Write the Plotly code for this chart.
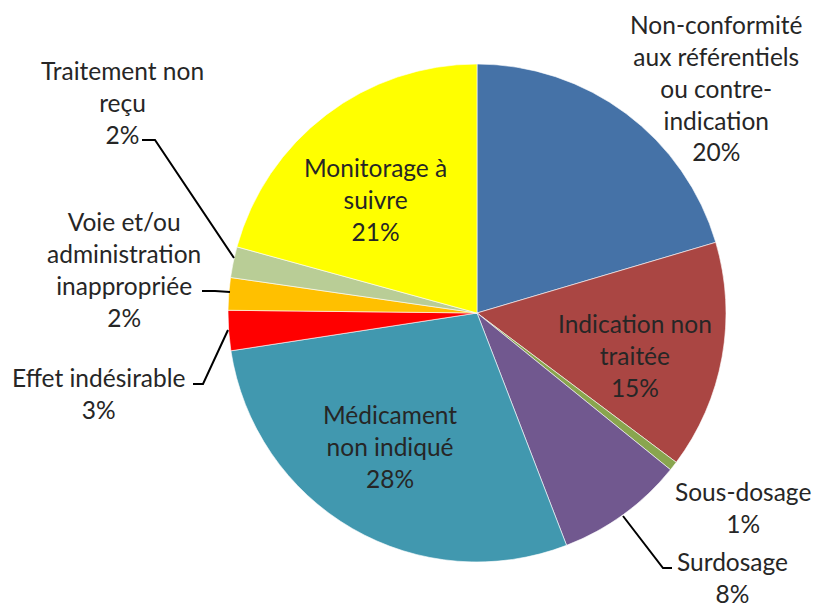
import plotly.graph_objects as go

W, H = 815, 607

categories = [
    "Non-conformité aux référentiels ou contre-indication",
    "Indication non traitée",
    "Sous-dosage",
    "Surdosage",
    "Médicament non indiqué",
    "Effet indésirable",
    "Voie et/ou administration inappropriée",
    "Traitement non reçu",
    "Monitorage à suivre",
]
values = [20.4, 14.8, 0.6, 8.3, 28.4, 2.6, 2.1, 2.0, 20.7]
colors = ["#4572A7", "#AA4643", "#89A54E", "#71588F", "#4198AF",
          "#FF0000", "#FFC000", "#B9CD96", "#FFFF00"]
label_lines = [
    "Non-conformité<br>aux référentiels<br>ou contre-<br>indication",
    "Indication non<br>traitée",
    "Sous-dosage",
    "Surdosage",
    "Médicament<br>non indiqué",
    "Effet indésirable",
    "Voie et/ou<br>administration<br>inappropriée",
    "Traitement non<br>reçu",
    "Monitorage à<br>suivre",
]
# label centres (pixels from top-left)
label_pos = [(716, 88), (635, 355), (743, 507), (732, 577), (390, 446),
             (98, 393), (124, 269), (122, 102), (375, 200)]
# leader lines (pixels)
leaders = [
    None, None, None,
    [(623, 516), (663, 568), (672, 568)],
    None,
    [(193, 384), (203, 384), (228, 330)],
    [(202, 291), (215, 291), (230, 292)],
    [(142, 140), (155, 140), (234, 258)],
    None,
]

cx, cy, R = 477, 313, 249

def px(x):
    return x / W

def py(y):
    return 1 - y / H

fig = go.Figure(go.Pie(
    labels=categories,
    values=values,
    sort=False,
    direction="clockwise",
    rotation=0,
    textinfo="none",
    hoverinfo="label+percent",
    marker=dict(colors=colors, line=dict(color="rgba(255,255,255,0.75)", width=0.8)),
    domain=dict(x=[px(cx - R), px(cx + R)], y=[py(cy + R), py(cy - R)]),
    showlegend=False,
))

total = sum(values)
annotations = []
shapes = []
font = dict(family="Lato, 'Open Sans', sans-serif", size=24.5, color="#262626")
for lab, v, (x, y), ld in zip(label_lines, values, label_pos, leaders):
    pct = round(v / total * 100)
    annotations.append(dict(
        x=px(x), y=py(y), xref="paper", yref="paper",
        text=f"{lab}<br>{pct}%", showarrow=False, align="center",
        xanchor="center", yanchor="middle", font=font,
    ))
    if ld:
        path = "M " + " L ".join(f"{px(a)},{py(b)}" for a, b in ld)
        shapes.append(dict(type="path", xref="paper", yref="paper", path=path,
                           line=dict(color="black", width=2)))

fig.update_layout(
    width=W, height=H,
    margin=dict(l=0, r=0, t=0, b=0),
    paper_bgcolor="white", plot_bgcolor="white",
    annotations=annotations, shapes=shapes,
)

fig.write_html("out.html", config={"displayModeBar": False},
               post_script="document.body.style.margin='0';document.body.style.overflow='hidden';")
